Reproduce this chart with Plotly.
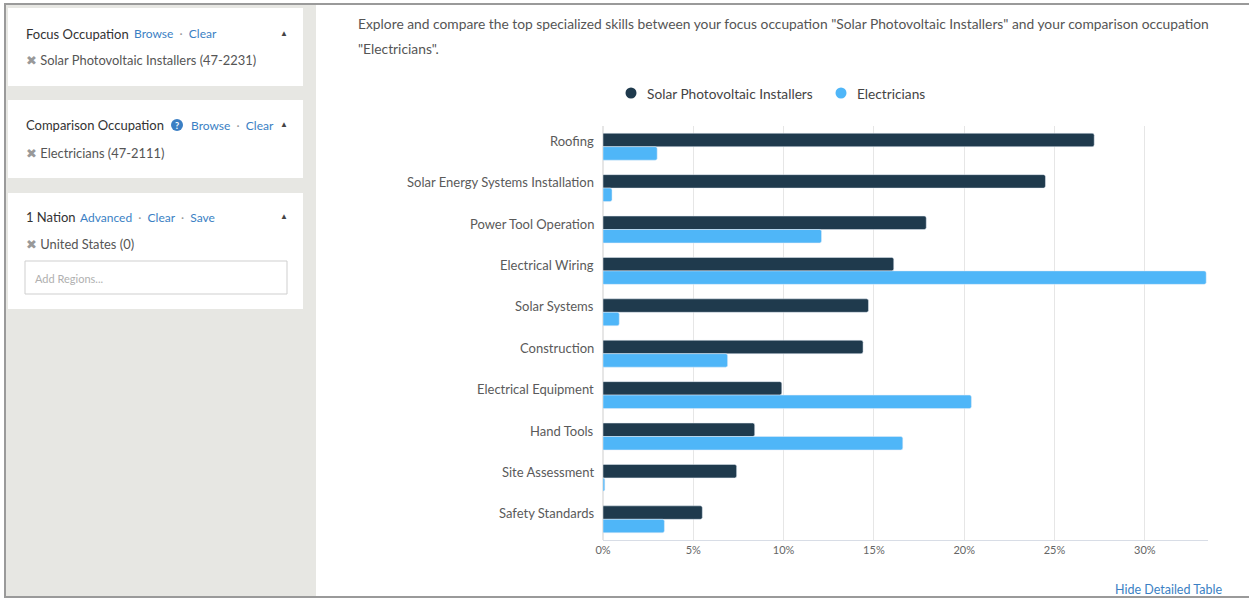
import plotly.graph_objects as go

# ---------------- data ----------------
skills = ["Roofing", "Solar Energy Systems Installation", "Power Tool Operation",
          "Electrical Wiring", "Solar Systems", "Construction", "Electrical Equipment",
          "Hand Tools", "Site Assessment", "Safety Standards"]
solar_pv = [27.2, 24.5, 17.9, 16.1, 14.7, 14.4, 9.9, 8.4, 7.4, 5.5]
electricians = [3.0, 0.5, 12.1, 33.4, 0.9, 6.9, 20.4, 16.6, 0.1, 3.4]
series_names = ["Solar Photovoltaic Installers", "Electricians"]
x_ticks = [0, 5, 10, 15, 20, 25, 30]

DARK = "#1f3a4d"
LIGHT = "#4fb6f8"
LINK = "#3b7fc4"
FONT = "Lato, 'Open Sans', sans-serif"

W, H = 1249, 599
PL, PR, PT, PB = 603, 1208, 126, 540  # plot area in pixels


def px(x):
    return (x - PL) / (PR - PL)


def py(y):
    return (PB - y) / (PB - PT)


fig = go.Figure()
fig.add_trace(go.Bar(y=skills, x=solar_pv, orientation="h", name=series_names[0],
                     marker=dict(color=DARK, cornerradius=2), showlegend=False))
fig.add_trace(go.Bar(y=skills, x=electricians, orientation="h", name=series_names[1],
                     marker=dict(color=LIGHT, cornerradius=2), showlegend=False))

shapes = []
ann = []

# page frame and sidebar
shapes.append(dict(type="rect", xref="paper", yref="paper", x0=px(6), x1=px(316), y0=py(597), y1=py(5),
                   fillcolor="#e7e7e3", line=dict(width=0), layer="below"))
for (y0, y1) in [(8, 86), (100, 178), (193, 309)]:
    shapes.append(dict(type="rect", xref="paper", yref="paper", x0=px(8), x1=px(303), y0=py(y1), y1=py(y0),
                       fillcolor="white", line=dict(width=0), layer="below"))
# input box
shapes.append(dict(type="rect", xref="paper", yref="paper", x0=px(25), x1=px(287), y0=py(294), y1=py(261),
                   fillcolor="white", line=dict(width=1, color="#cfcfcf"), layer="below"))
# frame lines
shapes.append(dict(type="line", xref="paper", yref="paper", x0=px(4), x1=px(1249), y0=py(4), y1=py(4),
                   line=dict(width=2, color="#9a9a9a")))
shapes.append(dict(type="line", xref="paper", yref="paper", x0=px(5), x1=px(5), y0=py(4), y1=py(598),
                   line=dict(width=2, color="#9a9a9a")))
shapes.append(dict(type="line", xref="paper", yref="paper", x0=px(4), x1=px(1249), y0=py(597), y1=py(597),
                   line=dict(width=2, color="#9a9a9a")))
# question icon
shapes.append(dict(type="circle", xref="paper", yref="paper", x0=px(171), x1=px(183), y0=py(131), y1=py(119),
                   fillcolor=LINK, line=dict(width=0)))


def text(x, y, s, size=13, color="#333", anchor="left", **kw):
    ann.append(dict(xref="paper", yref="paper", x=px(x), y=py(y), text=s, showarrow=False,
                    xanchor=anchor, yanchor="middle", font=dict(family=FONT, size=size, color=color), **kw))


# legend (round markers like the original)
legend_pos = [(631, 645), (841, 855)]
for nm, col, (cx, tx) in zip(series_names, [DARK, LIGHT], legend_pos):
    shapes.append(dict(type="circle", xref="paper", yref="paper", x0=px(cx - 5.5), x1=px(cx + 5.5),
                       y0=py(93 + 5.5), y1=py(93 - 5.5), fillcolor=col, line=dict(width=0)))
    text(tx, 93, nm, 13.7, "#444")

sep = "<span style='color:#999'> · </span>"
# panel 1
text(24, 34, "Focus Occupation", 13, "#333")
text(132, 34, f"<span style='color:{LINK}'>Browse</span> {sep} <span style='color:{LINK}'>Clear</span>", 12, LINK)
text(284, 33, "▲", 8, "#444", "center")
text(24, 60, "<span style='color:#999'>✖</span> Solar Photovoltaic Installers (47-2231)", 12.9, "#555")
# panel 2
text(24, 125, "Comparison Occupation", 13, "#333")
text(177, 125, "<b>?</b>", 9, "white", "center")
text(189, 125, f"<span style='color:{LINK}'>Browse</span> {sep} <span style='color:{LINK}'>Clear</span>", 12, LINK)
text(284, 124, "▲", 8, "#444", "center")
text(24, 153, "<span style='color:#999'>✖</span> Electricians (47-2111)", 12.9, "#555")
# panel 3
text(24, 217, "1 Nation", 13, "#333")
text(78, 217, f"<span style='color:{LINK}'>Advanced</span> {sep} <span style='color:{LINK}'>Clear</span> {sep} <span style='color:{LINK}'>Save</span>", 12, LINK)
text(284, 216, "▲", 8, "#444", "center")
text(24, 244, "<span style='color:#999'>✖</span> United States (0)", 12.9, "#555")
text(33, 278, "Add Regions...", 11, "#b0b0b0")

# description
text(356, 23, "Explore and compare the top specialized skills between your focus occupation \"Solar Photovoltaic Installers\" and your comparison occupation", 13.8, "#555")
text(356, 48, "\"Electricians\".", 13.8, "#555")
# footer link
text(1168, 589, "Hide Detailed Table", 12.5, LINK, "center")

# category labels aligned with the upper bar of each group
for s in skills:
    ann.append(dict(xref="paper", yref="y", x=0, y=s, text=s, showarrow=False, xanchor="right",
                    yanchor="middle", xshift=-7, yshift=6,
                    font=dict(family=FONT, size=13, color="#5a5a5a")))

fig.update_layout(
    width=W, height=H,
    margin=dict(l=PL, r=W - PR, t=PT, b=H - PB, pad=0),
    paper_bgcolor="white", plot_bgcolor="white",
    barmode="group", bargap=0.35, bargroupgap=0,
    font=dict(family=FONT, size=12, color="#555"),
    xaxis=dict(range=[0, 33.5], tickvals=x_ticks, ticktext=[f"{v}%" for v in x_ticks],
               showgrid=True, gridcolor="#e6e6e6", gridwidth=1, zeroline=True, zerolinecolor="#e6e6e6",
               showline=True, linecolor="#d8dde6", linewidth=1,
               tickfont=dict(family=FONT, size=11, color="#666"), ticks="", fixedrange=True),
    yaxis=dict(autorange="reversed", showticklabels=False, showgrid=False, ticks="", showline=False,
               fixedrange=True),
    shapes=shapes, annotations=ann, showlegend=False,
)

fig.write_html("out.html")
